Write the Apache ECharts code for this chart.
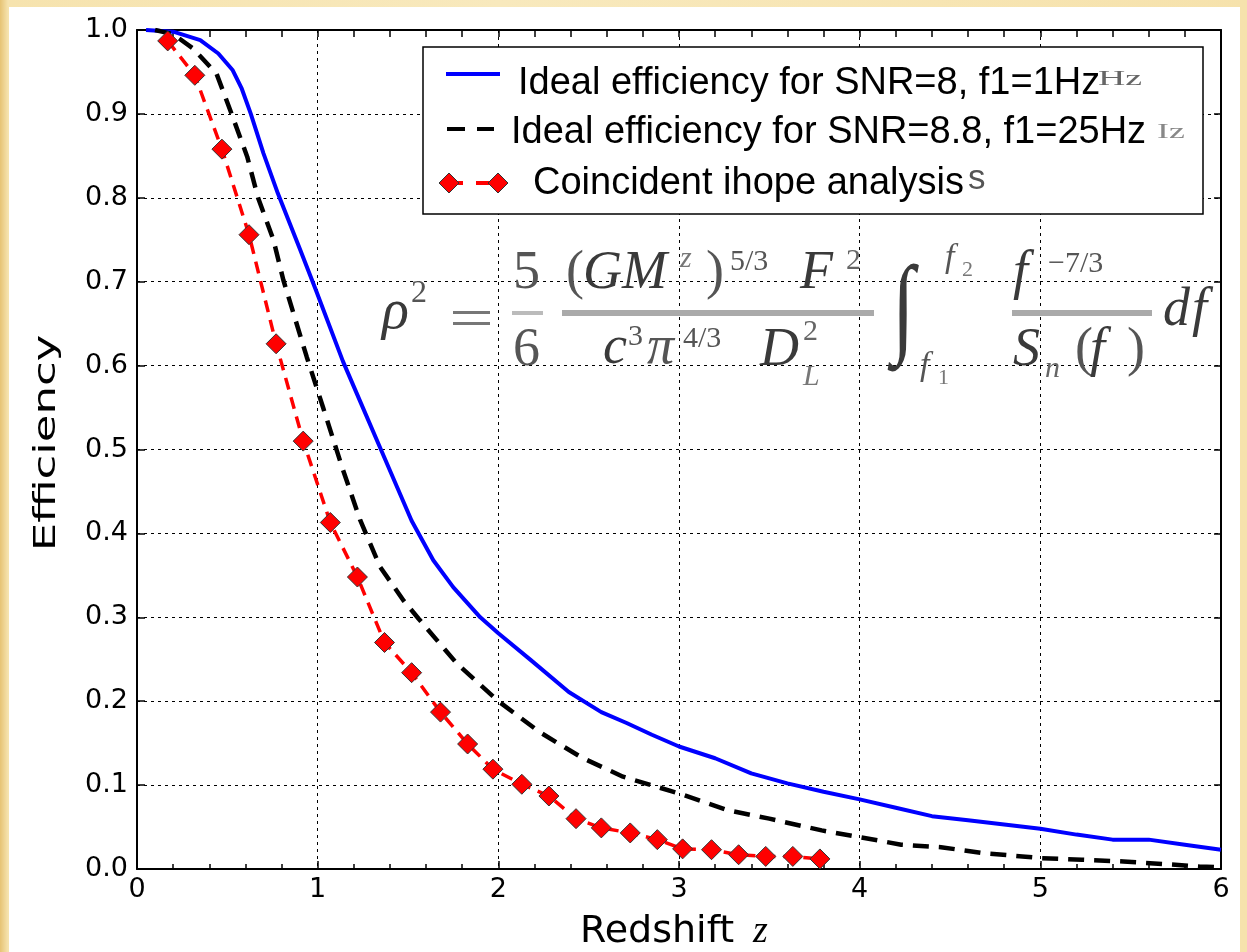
<!DOCTYPE html>
<html>
<head>
<meta charset="utf-8">
<script src="https://cdn.jsdelivr.net/npm/echarts@6/dist/echarts.min.js"></script>
<style>
  html, body { margin: 0; padding: 0; }
  body {
    width: 1247px; height: 952px; overflow: hidden; position: relative;
    background: linear-gradient(90deg, #e6c374 0px, #f6e3ae 8px, #f8e9bd 40%, #f6e2ac 100%);
  }
  #paper { position: absolute; left: 9px; top: 7px; width: 1231px; height: 945px; background: #ffffff; }
  #chart { position: absolute; left: 0; top: 0; width: 1247px; height: 952px; }
</style>
</head>
<body>
<div id="paper"></div>
<div id="chart"></div>
<script>
// ---------------- data ----------------
const xTickLabels = ['0', '1', '2', '3', '4', '5', '6'];
const yTickLabels = ['0.0', '0.1', '0.2', '0.3', '0.4', '0.5', '0.6', '0.7', '0.8', '0.9', '1.0'];

const seriesNames = [
  'Ideal efficiency for SNR=8, f1=1Hz',
  'Ideal efficiency for SNR=8.8, f1=25Hz',
  'Coincident ihope analysis'
];

// Ideal efficiency, SNR=8, f1=1Hz (blue solid)
const blueZ   = [0.05, 0.2, 0.35, 0.45, 0.53, 0.58, 0.63, 0.70, 0.78, 0.90, 0.99, 1.14, 1.24, 1.35, 1.44, 1.52, 1.64, 1.75, 1.90, 2.00, 2.18, 2.39, 2.57, 2.71, 2.85, 3.00, 3.20, 3.40, 3.60, 3.80, 4.00, 4.20, 4.40, 4.60, 4.80, 5.00, 5.20, 5.40, 5.60, 5.80, 6.00];
const blueEff = [1.000, 0.998, 0.988, 0.972, 0.952, 0.930, 0.900, 0.853, 0.805, 0.740, 0.690, 0.605, 0.555, 0.500, 0.455, 0.415, 0.368, 0.336, 0.300, 0.281, 0.249, 0.211, 0.187, 0.174, 0.160, 0.146, 0.132, 0.114, 0.102, 0.092, 0.083, 0.073, 0.063, 0.058, 0.053, 0.048, 0.041, 0.035, 0.035, 0.029, 0.023];

// Ideal efficiency, SNR=8.8, f1=25Hz (black dashed)
const blackZ   = [0.10, 0.20, 0.31, 0.44, 0.515, 0.61, 0.67, 0.755, 0.81, 0.94, 1.03, 1.135, 1.235, 1.346, 1.475, 1.56, 1.77, 2.00, 2.23, 2.46, 2.69, 3.00, 3.27, 3.50, 3.79, 4.00, 4.23, 4.45, 4.68, 4.90, 5.00, 5.23, 5.46, 5.68, 5.88, 6.00];
const blackEff = [1.000, 0.995, 0.978, 0.948, 0.905, 0.849, 0.800, 0.750, 0.702, 0.610, 0.550, 0.479, 0.416, 0.360, 0.320, 0.298, 0.245, 0.200, 0.163, 0.133, 0.110, 0.090, 0.070, 0.060, 0.046, 0.038, 0.029, 0.026, 0.019, 0.015, 0.013, 0.011, 0.009, 0.006, 0.003, 0.002];

// Coincident ihope analysis (red diamonds, dashed)
const redZ   = [0.17, 0.32, 0.47, 0.62, 0.77, 0.92, 1.07, 1.22, 1.37, 1.52, 1.68, 1.83, 1.97, 2.13, 2.28, 2.43, 2.57, 2.73, 2.88, 3.02, 3.18, 3.33, 3.48, 3.63, 3.78];
const redEff = [0.987, 0.946, 0.858, 0.756, 0.626, 0.510, 0.413, 0.348, 0.270, 0.234, 0.187, 0.149, 0.119, 0.101, 0.087, 0.060, 0.049, 0.043, 0.035, 0.024, 0.023, 0.017, 0.015, 0.015, 0.012];

// ---------------- helpers ----------------
const zip = (a, b) => a.map((v, i) => [v, b[i]]);
const K = 0.35; // em-box middle above baseline

function txt(text, x, baseline, size, family, opt) {
  opt = opt || {};
  const font = (opt.italic ? 'italic ' : '') + size + 'px ' + family;
  return {
    type: 'text', z: opt.z || 120, silent: true,
    x: x, y: baseline - K * size * (opt.scaleY || 1),
    scaleX: opt.scaleX || 1, scaleY: opt.scaleY || 1,
    rotation: opt.rotation || 0,
    style: {
      text: text, x: 0, y: 0, font: font, fill: opt.fill || '#000',
      textAlign: opt.align || 'left', align: opt.align || 'left',
      textVerticalAlign: 'middle', verticalAlign: 'middle'
    }
  };
}
function rect(x, y, w, h, fill, opt) {
  opt = opt || {};
  return { type: 'rect', z: opt.z || 110, silent: true,
    shape: { x: x, y: y, width: w, height: h },
    style: { fill: fill, stroke: opt.stroke || null, lineWidth: opt.lineWidth || 0 } };
}
function seg(x1, y1, x2, y2, color, w, z) {
  return { type: 'line', z: z || 120, silent: true,
    shape: { x1: x1, y1: y1, x2: x2, y2: y2 },
    style: { stroke: color, lineWidth: w } };
}
function diamond(cx, cy, r, z) {
  return { type: 'polygon', z: z || 121, silent: true,
    shape: { points: [[cx, cy - r], [cx + r, cy], [cx, cy + r], [cx - r, cy]] },
    style: { fill: '#ff0000', stroke: '#333', lineWidth: 1 } };
}

const SANS = '"DejaVu Sans"';
const LEG = '"Liberation Sans"';
const SERIF = '"Liberation Serif"';
const FC = '#3a3a3a';

// ---------------- graphic: legend, axis names, formula ----------------
const graphics = [];
// legend box
graphics.push(rect(423, 47, 780, 167, '#ffffff', { stroke: '#000', lineWidth: 1.5, z: 100 }));
graphics.push(seg(446, 74, 500, 74, '#0000ff', 4));
graphics.push(seg(447, 129, 465, 129, '#000', 4));
graphics.push(seg(477, 129, 494, 129, '#000', 4));
graphics.push(seg(449, 183, 463, 183, '#ff0000', 4));
graphics.push(seg(476, 183, 490, 183, '#ff0000', 4));
graphics.push(diamond(449, 183, 10));
graphics.push(diamond(498, 183, 10));
graphics.push(txt(seriesNames[0], 518, 97, 38, LEG));
graphics.push(txt('Hz', 1098, 87, 21, SERIF, { fill: '#666', scaleX: 1.8 }));
graphics.push(txt(seriesNames[1], 511, 146, 38, LEG));
graphics.push(txt('Iz', 1157, 140, 21, SERIF, { fill: '#888', scaleX: 1.7 }));
graphics.push(txt(seriesNames[2], 533, 197, 38, LEG));
graphics.push(txt('s', 968, 192, 35, LEG, { fill: '#555' }));

// axis names
graphics.push({
  type: 'text', z: 120, silent: true, x: 47, y: 443, rotation: Math.PI / 2, scaleX: 1.45,
  style: { text: 'Efficiency', x: 0, y: 0, font: '31px ' + SANS, fill: '#000',
    textAlign: 'center', align: 'center', textVerticalAlign: 'middle', verticalAlign: 'middle' }
});
graphics.push(txt('Redshift', 580, 945, 38, SANS));
graphics.push(txt('z', 753, 945, 38, SERIF, { italic: true }));

// formula  rho^2 = 5/6 (G M^z)^{5/3} F^2 / (c^3 pi^{4/3} D_L^2) \int_{f1}^{f2} f^{-7/3}/S_n(f) df
graphics.push(txt('ρ', 382, 333, 56, SERIF, { italic: true, fill: FC }));
graphics.push(txt('2', 411, 305, 32, SERIF, { fill: '#555' }));
graphics.push(rect(453, 311, 37, 3, '#777'));
graphics.push(rect(453, 322, 37, 3, '#777'));
graphics.push(txt('5', 513, 293, 54, SERIF, { fill: '#555' }));
graphics.push(rect(512, 311, 31, 4, '#bbb'));
graphics.push(txt('6', 513, 370, 54, SERIF, { fill: '#555' }));
graphics.push(txt('(', 566, 293, 54, SERIF, { fill: '#555' }));
graphics.push(txt('GM', 583, 293, 54, SERIF, { italic: true, fill: FC }));
graphics.push(txt('z', 680, 270, 30, SERIF, { italic: true, fill: '#777' }));
graphics.push(txt(')', 706, 293, 54, SERIF, { fill: '#555' }));
graphics.push(txt('5/3', 730, 273, 30, SERIF, { fill: '#555' }));
graphics.push(txt('F', 800, 293, 54, SERIF, { italic: true, fill: FC }));
graphics.push(txt('2', 846, 272, 30, SERIF, { fill: '#666' }));
graphics.push(rect(562, 310, 312, 6, '#aaa'));
graphics.push(txt('c', 603, 368, 54, SERIF, { italic: true, fill: FC }));
graphics.push(txt('3', 628, 348, 30, SERIF, { fill: '#555' }));
graphics.push(txt('π', 647, 368, 54, SERIF, { italic: true, fill: '#555' }));
graphics.push(txt('4/3', 683, 350, 30, SERIF, { fill: '#555' }));
graphics.push(txt('D', 760, 370, 54, SERIF, { italic: true, fill: FC }));
graphics.push(txt('2', 803, 343, 30, SERIF, { fill: '#666' }));
graphics.push(txt('L', 803, 388, 30, SERIF, { italic: true, fill: '#777' }));
graphics.push(txt('∫', 892, 352, 110, SERIF, { fill: FC, scaleX: 0.75 }));
graphics.push(txt('f', 945, 270, 34, SERIF, { italic: true, fill: '#555' }));
graphics.push(txt('2', 962, 278, 22, SERIF, { fill: '#777' }));
graphics.push(txt('f', 920, 378, 34, SERIF, { italic: true, fill: '#555' }));
graphics.push(txt('1', 938, 386, 22, SERIF, { fill: '#777' }));
graphics.push(txt('f', 1013, 293, 54, SERIF, { italic: true, fill: FC }));
graphics.push(txt('−7/3', 1048, 275, 30, SERIF, { fill: '#555' }));
graphics.push(rect(1012, 310, 140, 6, '#aaa'));
graphics.push(txt('S', 1013, 370, 54, SERIF, { italic: true, fill: FC }));
graphics.push(txt('n', 1045, 380, 30, SERIF, { italic: true, fill: '#666' }));
graphics.push(txt('(', 1075, 370, 54, SERIF, { fill: '#555' }));
graphics.push(txt('f', 1090, 370, 54, SERIF, { italic: true, fill: FC }));
graphics.push(txt(')', 1127, 370, 54, SERIF, { fill: '#555' }));
graphics.push(txt('d', 1163, 330, 54, SERIF, { italic: true, fill: FC }));
graphics.push(txt('f', 1192, 330, 54, SERIF, { italic: true, fill: FC }));

// ---------------- chart ----------------
const chart = echarts.init(document.getElementById('chart'), null, { renderer: 'canvas' });
const axisLine = { show: true, onZero: false, lineStyle: { color: '#000', width: 2 } };
const gridLine = { show: true, lineStyle: { color: '#000', width: 1, type: [3, 4] } };
const tickFont = { color: '#000', fontSize: 27, fontFamily: 'DejaVu Sans' };

chart.setOption({
  backgroundColor: 'transparent',
  animation: false,
  grid: { left: 137, right: 26, top: 30, bottom: 83, containLabel: false },
  xAxis: [
    {
      type: 'value', min: 0, max: 6, interval: 1, position: 'bottom',
      axisLine: axisLine,
      axisTick: { show: true, inside: true, length: 8, lineStyle: { color: '#000', width: 1.5 } },
      minorTick: { show: true, splitNumber: 5, length: 5, lineStyle: { color: '#000', width: 1.5 } },
      axisLabel: Object.assign({ show: true, margin: 7, formatter: v => xTickLabels[Math.round(v)] }, tickFont),
      splitLine: gridLine
    },
    {
      type: 'value', min: 0, max: 6, interval: 1, position: 'top',
      axisLine: axisLine,
      axisTick: { show: true, inside: true, length: 7, lineStyle: { color: '#000', width: 1.5 } },
      minorTick: { show: true, splitNumber: 5, length: 7, lineStyle: { color: '#000', width: 1.5 } },
      axisLabel: { show: false },
      splitLine: { show: false }
    }
  ],
  yAxis: [
    {
      type: 'value', min: 0, max: 1, interval: 0.1, position: 'left',
      axisLine: axisLine,
      axisTick: { show: true, inside: true, length: 8, lineStyle: { color: '#000', width: 1.5 } },
      axisLabel: Object.assign({ show: true, margin: 9, formatter: v => yTickLabels[Math.round(v * 10)] }, tickFont),
      splitLine: gridLine
    },
    {
      type: 'value', min: 0, max: 1, interval: 0.1, position: 'right',
      axisLine: axisLine,
      axisTick: { show: true, inside: true, length: 7, lineStyle: { color: '#000', width: 1.5 } },
      axisLabel: { show: false },
      splitLine: { show: false }
    }
  ],
  series: [
    {
      name: seriesNames[0], type: 'line', data: zip(blueZ, blueEff),
      showSymbol: false, symbol: 'none', smooth: false, z: 3,
      lineStyle: { color: '#0000ff', width: 4, type: 'solid', join: 'round' }
    },
    {
      name: seriesNames[1], type: 'line', data: zip(blackZ, blackEff),
      showSymbol: false, symbol: 'none', smooth: false, z: 4,
      lineStyle: { color: '#000000', width: 4.5, type: [16, 10] }
    },
    {
      name: seriesNames[2], type: 'line', data: zip(redZ, redEff),
      symbol: 'diamond', symbolSize: 20, showSymbol: true, smooth: false, z: 5,
      lineStyle: { color: '#ff0000', width: 3.5, type: [12, 8] },
      itemStyle: { color: '#ff0000', borderColor: '#333', borderWidth: 1 }
    }
  ],
  graphic: { elements: graphics }
});
</script>
</body>
</html>
